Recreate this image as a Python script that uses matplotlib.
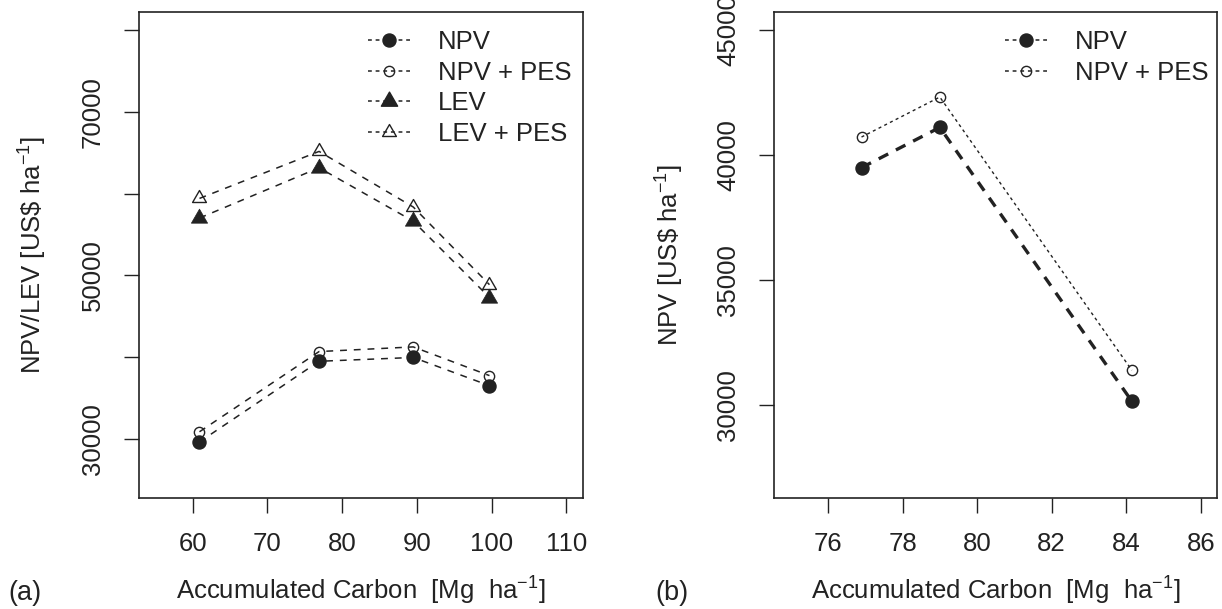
import matplotlib
matplotlib.use('Agg')
import matplotlib.pyplot as plt
from matplotlib.lines import Line2D
from matplotlib.path import Path

plt.rcParams['font.family'] = ['Liberation Sans', 'DejaVu Sans']
plt.rcParams['mathtext.fontset'] = 'custom'
plt.rcParams['mathtext.rm'] = 'Liberation Sans'
plt.rcParams['mathtext.default'] = 'regular'

# panel (a)
carbon_a = [60.9, 76.9, 89.5, 99.7]
npv_a = [29620, 39480, 39950, 36500]
npv_pes_a = [30860, 40670, 41240, 37730]
lev_a = [57000, 63150, 56620, 47280]
lev_pes_a = [59400, 65150, 58350, 48850]
xticks_a = [60, 70, 80, 90, 100, 110]
yticks_a = [30000, 40000, 50000, 60000, 70000, 80000]
yticklabels_a = ['30000', '', '50000', '', '70000', '']

# panel (b)
carbon_b = [76.9, 79.0, 84.15]
npv_b = [39490, 41100, 30140]
npv_pes_b = [40715, 42316, 31380]
xticks_b = [76, 78, 80, 82, 84, 86]
yticks_b = [30000, 35000, 40000, 45000]

ink = '#222222'
fs = 18.5
# R-style equilateral triangle, centred on its centroid
tri = Path([(0, 1.555), (1.347, -0.778), (-1.347, -0.778), (0, 1.555)],
           closed=True)

fig = plt.figure(figsize=(12.22, 6.09), dpi=100)
ax1 = fig.add_axes([0.1137, 0.1828, 0.3633, 0.7975])
ax2 = fig.add_axes([0.6336, 0.1828, 0.3625, 0.7975])

dash = dict(color=ink, lw=1.1, dashes=(4.5, 4.5))
ax1.plot(carbon_a, npv_a, marker='o', ms=9.4, mfc=ink, mec=ink, **dash)
ax1.plot(carbon_a, npv_pes_a, marker='o', ms=7.4, mfc='none', mec=ink, mew=1.0, **dash)
ax1.plot(carbon_a, lev_a, marker=tri, ms=13.5, mfc=ink, mec=ink, mew=0.5, **dash)
ax1.plot(carbon_a, lev_pes_a, marker=tri, ms=11.5, mfc='none', mec=ink, mew=1.0, **dash)

ax2.plot(carbon_b, npv_b, marker='o', ms=9.4, mfc=ink, mec=ink, color=ink, lw=2.4, dashes=(3.2, 2.6))
ax2.plot(carbon_b, npv_pes_b, marker='o', ms=7.4, mfc='none', mec=ink, mew=1.0, color=ink, lw=1.0, dashes=(2.2, 2.4))

ax1.set_xlim(52.8, 112.2)
ax1.set_ylim(22800, 82200)
ax1.set_xticks(xticks_a)
ax1.set_yticks(yticks_a)
ax1.set_yticklabels(yticklabels_a)

ax2.set_xlim(74.56, 86.44)
ax2.set_ylim(26280, 45720)
ax2.set_xticks(xticks_b)
ax2.set_yticks(yticks_b)

xlab = r'Accumulated Carbon  [Mg  ha$^{-1}$]'
ax1.set_xlabel(xlab, fontsize=fs, color=ink, va='baseline')
ax2.set_xlabel(xlab, fontsize=fs, color=ink, va='baseline')
ax1.set_ylabel(r'NPV/LEV [US\$ ha$^{-1}$]', fontsize=fs, color=ink, va='center')
ax2.set_ylabel(r'NPV [US\$ ha$^{-1}$]', fontsize=fs, color=ink, va='center')
ax1.xaxis.set_label_coords(0.5, -0.2106)
ax2.xaxis.set_label_coords(0.5, -0.2106)
ax1.yaxis.set_label_coords(-0.2387, 0.5)
ax2.yaxis.set_label_coords(-0.2356, 0.5)

for ax in (ax1, ax2):
    ax.tick_params(direction='out', length=10.5, width=1.0, pad=14,
                   labelsize=fs, colors=ink)
    for lab in ax.get_yticklabels():
        lab.set_rotation(90)
        lab.set_va('center')
        lab.set_ha('right')
    for s in ax.spines.values():
        s.set_linewidth(1.2)
        s.set_color(ink)

def handle(**kw):
    return Line2D([], [], color=ink, lw=1.1, dashes=(2.5, 2.5), **kw)

h_a = [handle(marker='o', ms=9.4, mfc=ink, mec=ink),
       handle(marker='o', ms=7.4, mfc='none', mec=ink),
       handle(marker=tri, ms=13.5, mfc=ink, mec=ink),
       handle(marker=tri, ms=11.5, mfc='none', mec=ink)]
ax1.legend(h_a, ['NPV', 'NPV + PES', 'LEV', 'LEV + PES'], loc='upper left',
           bbox_to_anchor=(0.5158, 0.962), frameon=False, fontsize=fs,
           numpoints=1, handlelength=1.63, handletextpad=1.09,
           labelspacing=0.25, borderpad=0, borderaxespad=0, labelcolor=ink)
ax2.legend(h_a[:2], ['NPV', 'NPV + PES'], loc='upper left',
           bbox_to_anchor=(0.5208, 0.962), frameon=False, fontsize=fs,
           numpoints=1, handlelength=1.63, handletextpad=1.09,
           labelspacing=0.25, borderpad=0, borderaxespad=0, labelcolor=ink)

fig.text(8 / 1222, 1 - 600 / 609, '(a)', fontsize=fs + 1, color=ink, va='baseline')
fig.text(655 / 1222, 1 - 600 / 609, '(b)', fontsize=fs + 1, color=ink, va='baseline')

fig.savefig('out.png', dpi=100)
